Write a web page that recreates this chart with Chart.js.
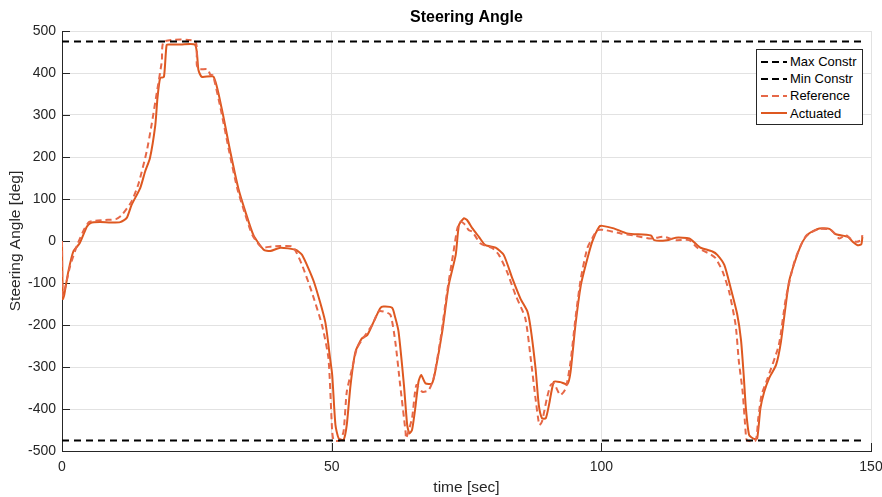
<!DOCTYPE html>
<html>
<head>
<meta charset="utf-8">
<script src="https://cdn.jsdelivr.net/npm/chart.js@4.4.1/dist/chart.umd.min.js"></script>
<style>
  html, body { margin: 0; padding: 0; background: #ffffff; }
  #wrap { position: relative; width: 882px; height: 497px; }
  #legend {
    position: absolute; left: 756px; top: 49px; width: 105px; height: 74px;
    border: 1px solid #262626; background: #ffffff;
    font-family: "Liberation Sans", Arial, sans-serif; font-size: 13px; color: #000;
  }
  .row { position: absolute; left: 0; height: 17px; display: flex; align-items: center; }
  .row svg { margin-left: 4px; margin-right: 3px; }
</style>
</head>
<body>
<div id="wrap">
  <canvas id="c" width="882" height="497"></canvas>
  <div id="legend"></div>
</div>
<script>
// ---- data ----
const constrT = [0, 148.4];
const maxConstr = [475, 475];
const minConstr = [-475, -475];

const actT = [0, 0.15, 0.4, 1.17, 2.1, 3.3, 4.6, 5.3, 7, 9, 10.8, 12, 12.9, 14.5, 15.4, 16.3, 17.3, 17.7, 18.2, 18.9, 19.4, 20.0, 22, 24.7, 25.3, 25.9, 28.1, 29.6, 31.2, 32.7, 34.0, 35.5, 37.4, 38.6, 40.5, 43.3, 44.5, 46.7, 48.8, 49.7, 50.1, 50.7, 51.3, 52.2, 52.8, 53.5, 54.4, 55.6, 56.6, 57.8, 59.0, 59.6, 61.2, 61.8, 62.4, 63.4, 64.0, 64.4, 64.9, 65.5, 66.1, 66.6, 67.4, 68.6, 69.2, 70.5, 71.7, 73.0, 73.6, 74.5, 75.1, 76.1, 77.3, 78.5, 80.4, 81.9, 83.5, 85.0, 86.3, 86.9, 87.8, 88.4, 89.0, 89.7, 90.3, 91.2, 92.4, 93.7, 94.3, 95.2, 96.2, 97.1, 98.3, 99.6, 100.2, 102.3, 104.8, 109.2, 109.8, 112.2, 113.8, 116.3, 117.8, 118.4, 120.6, 121.5, 122.8, 124.0, 125.2, 125.9, 126.4, 126.8, 127.4, 128.3, 128.9, 129.5, 130.2, 131.1, 132.4, 133.3, 134.8, 136.1, 137.3, 138.5, 140.4, 142.3, 143.5, 145.7, 146.6, 147.5, 148.2, 148.4];
const actV = [0, -138, -129, -73, -25, -5, 34, 43, 45, 44, 45, 55, 86, 126, 165, 197, 276, 340, 388, 391, 467, 468, 468, 467, 407, 391, 391, 316, 213, 125, 70, 14, -21, -24, -16, -21, -33, -97, -192, -279, -319, -438, -470, -474, -438, -343, -264, -232, -224, -192, -160, -156, -159, -183, -216, -343, -438, -458, -450, -398, -335, -319, -339, -339, -311, -216, -105, -33, 38, 54, 50, 30, 10, -10, -16, -33, -89, -137, -168, -208, -303, -390, -422, -422, -390, -335, -336, -341, -311, -200, -105, -57, -2, 34, 36, 30, 18, 13, 2, 2, 8, 6, -10, -16, -25, -33, -57, -113, -175, -236, -320, -398, -462, -471, -470, -398, -359, -327, -295, -240, -97, -41, -2, 18, 30, 29, 16, 10, -2, -10, -8, 10];

const refT = [0, 0.1, 0.6, 1.5, 2.8, 4.0, 5.0, 6, 8, 10, 11.1, 12.9, 14.2, 15.7, 16.6, 17.6, 18.5, 18.9, 24.7, 25.0, 25.4, 27.0, 27.5, 28.0, 29.4, 31.0, 32.5, 33.8, 35.3, 37.0, 38.9, 40.5, 42.8, 44.5, 46.3, 48.2, 49.4, 50.1, 50.4, 51.5, 52.2, 52.8, 53.8, 54.7, 55.6, 57.5, 58.7, 59.6, 60.9, 61.8, 62.7, 63.7, 63.8, 64.9, 65.7, 66.8, 68.0, 68.9, 70.2, 71.4, 72.6, 73.3, 73.9, 74.8, 75.4, 76.1, 77.6, 79.8, 81.0, 82.5, 84.1, 85.9, 86.9, 87.8, 88.5, 89.0, 89.9, 90.6, 91.2, 92.4, 93.4, 94.3, 95.2, 96.2, 97.4, 98.3, 99.3, 100.7, 103.6, 106, 109.2, 111.6, 113.8, 116.3, 117.8, 120.3, 121.2, 122.5, 123.7, 124.9, 125.5, 126.2, 126.8, 127.0, 128.6, 129.1, 129.7, 130.6, 132.9, 134.2, 135.8, 137.0, 138.1, 140.4, 142.6, 144.1, 145.3, 146.2, 147.2, 148.2, 148.4];
const refV = [0, -130, -110, -60, -10, 25, 45, 48, 50, 52, 62, 94, 137, 213, 276, 355, 427, 475, 475, 419, 409, 409, 396, 394, 316, 213, 125, 70, 14, -15, -13, -12, -14, -57, -121, -200, -279, -454, -475, -475, -454, -359, -303, -255, -236, -200, -168, -168, -176, -240, -343, -454, -470, -422, -343, -359, -355, -327, -232, -121, -25, 30, 46, 38, 26, 22, -6, -17, -33, -73, -129, -184, -279, -375, -438, -430, -375, -343, -339, -367, -351, -287, -184, -89, -17, 6, 26, 26, 18, 13, 6, 10, 2, 2, -16, -32, -41, -73, -121, -200, -287, -359, -462, -475, -475, -422, -367, -335, -248, -137, -49, -10, 14, 29, 26, 6, 14, 6, -2, 2, 14];

const xTicks = [0, 50, 100, 150];
const yTicks = [-500, -400, -300, -200, -100, 0, 100, 200, 300, 400, 500];

const labels = { title: 'Steering Angle', x: 'time [sec]', y: 'Steering Angle [deg]' };
const seriesNames = ['Max Constr', 'Min Constr', 'Reference', 'Actuated'];

// ---- styles ----
const FONT = '"Liberation Sans", Arial, sans-serif';
const ACT_COLOR = 'rgb(222,88,32)';
const REF_COLOR = 'rgb(230,104,72)';
const BLACK = '#000000';

const zip = (t, v) => t.map((x, i) => ({ x: x, y: v[i] }));

const innerTicks = {
  id: 'innerTicks',
  beforeDatasetsDraw(chart) {
    const { ctx, chartArea, scales } = chart;
    ctx.save();
    ctx.strokeStyle = '#262626';
    ctx.lineWidth = 1;
    ctx.beginPath();
    xTicks.forEach(v => {
      const px = Math.round(scales.x.getPixelForValue(v)) + 0.5;
      ctx.moveTo(px, chartArea.bottom);
      ctx.lineTo(px, chartArea.bottom - 8);
    });
    yTicks.forEach(v => {
      const py = Math.round(scales.y.getPixelForValue(v)) + 0.5;
      ctx.moveTo(chartArea.left, py);
      ctx.lineTo(chartArea.left + 8, py);
    });
    ctx.stroke();
    ctx.restore();
  }
};

// title centred over the plot area (as in the reference)
const plotTitle = {
  id: 'plotTitle',
  afterDraw(chart) {
    const { ctx, chartArea } = chart;
    ctx.save();
    ctx.font = 'bold 16px ' + FONT;
    ctx.fillStyle = BLACK;
    ctx.textAlign = 'center';
    ctx.textBaseline = 'middle';
    ctx.fillText(labels.title, (chartArea.left + chartArea.right) / 2, 18);
    ctx.restore();
  }
};

const chart = new Chart(document.getElementById('c'), {
  type: 'line',
  data: {
    datasets: [
      { label: seriesNames[0], data: zip(constrT, maxConstr), borderColor: BLACK, borderWidth: 2, borderDash: [7, 5], pointRadius: 0 },
      { label: seriesNames[1], data: zip(constrT, minConstr), borderColor: BLACK, borderWidth: 2, borderDash: [7, 5], pointRadius: 0 },
      { label: seriesNames[2], data: zip(refT, refV), borderColor: REF_COLOR, borderWidth: 2, borderDash: [6, 4], pointRadius: 0, tension: 0.2 },
      { label: seriesNames[3], data: zip(actT, actV), borderColor: ACT_COLOR, borderWidth: 2, pointRadius: 0, tension: 0.2 }
    ]
  },
  options: {
    responsive: false,
    animation: false,
    layout: { padding: { left: 0, right: 11, top: 31, bottom: 0 } },
    plugins: {
      legend: { display: false },
      tooltip: { enabled: false },
      title: { display: false }
    },
    scales: {
      x: {
        type: 'linear', min: 0, max: 150,
        afterBuildTicks: s => { s.ticks = xTicks.map(v => ({ value: v })); },
        afterFit: s => { s.height = 46; s.paddingLeft = 0; s.paddingRight = 0; },
        ticks: { color: '#262626', font: { family: FONT, size: 14 }, padding: 8, maxRotation: 0 },
        grid: { color: '#e2e2e2', drawTicks: false },
        border: { display: true, color: '#262626' },
        title: { display: true, text: labels.x, color: '#262626', font: { family: FONT, size: 15.5 }, padding: { top: 2, bottom: 0 } }
      },
      y: {
        type: 'linear', min: -500, max: 500,
        afterBuildTicks: s => { s.ticks = yTicks.map(v => ({ value: v })); },
        afterFit: s => { s.width = 62; s.paddingTop = 0; s.paddingBottom = 0; },
        ticks: { color: '#262626', font: { family: FONT, size: 14 }, padding: 6 },
        grid: { color: '#e2e2e2', drawTicks: false },
        border: { display: true, color: '#262626' },
        title: { display: true, text: labels.y, color: '#262626', font: { family: FONT, size: 15.5 }, padding: { top: 6, bottom: 2 } }
      }
    }
  },
  plugins: [innerTicks, plotTitle]
});

// ---- legend (HTML, real text) ----
const legendStyles = [
  { color: BLACK, dash: '7,4' },
  { color: BLACK, dash: '7,4' },
  { color: REF_COLOR, dash: '7,4' },
  { color: ACT_COLOR, dash: '' }
];
const lg = document.getElementById('legend');
seriesNames.forEach((name, i) => {
  const row = document.createElement('div');
  row.className = 'row';
  row.style.top = (3 + i * 17.2) + 'px';
  const st = legendStyles[i];
  row.innerHTML = '<svg width="26" height="4"><line x1="0" y1="2" x2="26" y2="2" stroke="' + st.color +
    '" stroke-width="2"' + (st.dash ? ' stroke-dasharray="' + st.dash + '"' : '') + '/></svg>';
  const span = document.createElement('span');
  span.textContent = name;
  row.appendChild(span);
  lg.appendChild(row);
});
</script>
</body>
</html>
